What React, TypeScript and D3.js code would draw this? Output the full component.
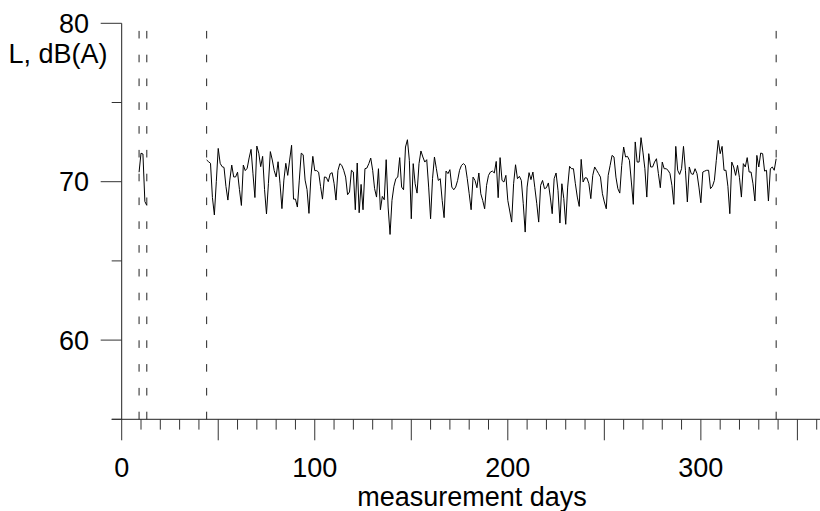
import React from "react";
import * as d3 from "d3";

// ---- data ----
const seg1Start = 9;
const seg1Values = [70.6, 71.8, 71.75, 68.75, 68.5];

const seg2Start = 44;
const seg2Values = [
  71.37, 71.26, 71.16, 69.0, 67.9, 70.0, 72.1, 71.16, 70.95, 70.9,
  69.7, 68.84, 70.1, 71.05, 70.3, 70.3, 70.6, 69.5, 68.5, 71.05,
  70.7, 70.85, 71.5, 72.04, 70.5, 69.0, 72.25, 71.8, 70.95, 71.6,
  69.5, 67.96, 69.9, 71.9, 71.37, 70.7, 70.3, 71.26, 69.9, 68.3,
  70.1, 71.16, 70.4, 71.37, 72.3, 68.9, 68.9, 68.4, 70.1, 71.8,
  71.7, 70.1, 69.5, 68.0, 70.3, 71.6, 70.7, 70.7, 70.6, 69.7,
  68.9, 70.3, 70.27, 70.0, 70.5, 70.57, 69.9, 68.84, 70.7,
  // d113..
  71.14, 71.03, 70.72, 70.29, 69.18, 69.35, 70.72, 70.61, 68.23, 71.18,
  68.04, 69.83, 68.23, 70.82, 70.86, 71.14, 71.49, 70.72, 69.56, 69.03,
  70.82, 68.23, 69.07, 68.86, 71.39, 68.4, 66.67, 68.82, 69.71, 70.19,
  70.29, 71.52, 69.66, 69.49, 72.19, 72.65, 71.35, 67.66, 71.14, 69.87,
  69.28, 71.14, 71.94, 71.56, 71.24, 71.39, 69.66, 67.66, 70.19, 71.56,
  70.82, 70.08, 70.19, 68.82, 67.73, 70.67, 70.51, 70.76, 69.66, 69.49,
  69.66, 70.08, 70.72, 71.03, 71.14, 71.03, 70.19, 69.24, 68.23, 70.29,
  70.08, 69.62, 70.55, 69.24, 68.82, 68.29, 69.77, 70.4, 70.61, 70.67,
  70.55, 71.28, 68.99, 71.52, 70.08, 69.98, 70.4, 68.82, 68.15, 67.45,
  69.87, 71.07, 70.19, 70.34, 70.08, 68.61, 66.82, 69.66, 70.57, 70.13,
  70.61, 69.62, 68.61, 67.45, 69.77, 70.08, 69.56, 69.62, 69.92, 69.03,
  67.98, 70.19, 70.55, 69.45, 67.39, 69.87, 68.93, 67.31, 69.66, 70.97,
  70.82, 70.82, 69.87, 69.03, 68.44,
  // d238..
  71.41, 69.98, 70.25, 70.23, 69.87, 68.93, 70.4, 70.93, 70.72, 70.51,
  70.29, 69.24, 68.72, 68.29, 70.4, 71.03, 71.66, 71.56, 70.29, 69.56,
  69.28, 71.03, 72.19, 71.56, 71.6, 71.35, 69.98, 68.57, 72.51, 71.24,
  71.24, 72.78, 71.87, 70.82, 69.03, 71.77, 70.93, 70.93, 71.24, 71.45,
  70.51, 69.62, 71.24, 70.82, 70.82, 70.72, 70.51, 69.77, 68.57, 72.23,
  70.72, 70.46, 70.82, 72.23, 70.72, 68.72, 70.93, 70.51, 70.46, 70.82,
  70.51, 69.66, 68.67, 70.61, 70.67, 70.72, 70.72, 69.56, 69.71, 70.08,
  71.35, 72.61, 71.77, 72.23, 70.72, 70.72, 69.71, 67.98, 71.24, 70.93,
  70.4, 71.03, 70.25, 69.03, 71.14, 70.93, 71.52, 70.61, 70.61, 69.87,
  68.78, 71.66, 70.93, 71.81, 71.77, 70.67, 70.72, 68.78, 70.82, 70.93,
  70.72, 71.45,
];

const xMajorTicks = [0, 50, 100, 150, 200, 250, 300, 350];
const xLabelTicks = [0, 100, 200, 300];
const yMajorTicks = [60, 70, 80];
const yMinorTicks = [55, 65, 75];

const W = 820;
const H = 511;
const FONT = "Arial, 'Liberation Sans', Helvetica, sans-serif";
const FS = 27;

export default function App() {
  const x = d3.scaleLinear().domain([0, 360]).range([121.7, 816.7]);
  const y = d3.scaleLinear().domain([55, 80]).range([419.3, 23.3]);

  const seg1 = seg1Values.map((v, i) => [seg1Start + i, v] as [number, number]);
  const seg2 = seg2Values.map((v, i) => [seg2Start + i, v] as [number, number]);
  const line = d3
    .line<[number, number]>()
    .x((d) => x(d[0]))
    .y((d) => y(d[1]));

  const dashDays = [
    seg1[0][0],
    seg1[seg1.length - 1][0],
    seg2[0][0],
    seg2[seg2.length - 1][0],
  ];

  const minorX = d3.range(0, 361, 10).filter((t) => t % 50 !== 0);
  const axisY = y(55);
  const axisX = x(0);

  return (
    <svg
      width={W}
      height={H}
      style={{ position: "absolute", left: 0, top: 0, background: "#fff" }}
      fontFamily={FONT}
    >
      <rect x={0} y={0} width={W} height={H} fill="#fff" />
      {/* dashed vertical markers */}
      {dashDays.map((d, i) => (
        <line
          key={"dash" + i}
          x1={x(d)}
          x2={x(d)}
          y1={axisY}
          y2={y(80)}
          stroke="#222"
          strokeWidth={1}
          strokeDasharray="7.6 16.2"
        />
      ))}
      {/* data */}
      <path d={line(seg1) || ""} fill="none" stroke="#000" strokeWidth={1} />
      <path d={line(seg2) || ""} fill="none" stroke="#000" strokeWidth={1} />

      {/* x axis */}
      <line x1={axisX - 10} x2={W} y1={axisY} y2={axisY} stroke="#222" strokeWidth={1} />
      {xMajorTicks.map((t) => (
        <line key={"xM" + t} x1={x(t)} x2={x(t)} y1={axisY} y2={axisY + 21} stroke="#333" strokeWidth={1} />
      ))}
      {minorX.map((t) => (
        <line key={"xm" + t} x1={x(t)} x2={x(t)} y1={axisY} y2={axisY + 10.3} stroke="#333" strokeWidth={1} />
      ))}
      {xLabelTicks.map((t) => (
        <text key={"xl" + t} x={x(t)} y={477} fontSize={FS} textAnchor="middle" fill="#000">
          {t}
        </text>
      ))}
      <text x={472} y={506} fontSize={FS} textAnchor="middle" fill="#000">
        measurement days
      </text>

      {/* y axis */}
      <line x1={axisX} x2={axisX} y1={y(80)} y2={axisY} stroke="#222" strokeWidth={1} />
      {yMajorTicks.map((t) => (
        <line key={"yM" + t} x1={axisX - 21} x2={axisX} y1={y(t)} y2={y(t)} stroke="#333" strokeWidth={1} />
      ))}
      {yMinorTicks.map((t) => (
        <line key={"ym" + t} x1={axisX - 10} x2={axisX} y1={y(t)} y2={y(t)} stroke="#333" strokeWidth={1} />
      ))}
      {yMajorTicks.map((t) => (
        <text key={"yl" + t} x={89} y={y(t) + 9.7} fontSize={FS} textAnchor="end" fill="#000">
          {t}
        </text>
      ))}
      <text x={107.5} y={63.3} fontSize={FS} textAnchor="end" fill="#000">
        L, dB(A)
      </text>
    </svg>
  );
}
